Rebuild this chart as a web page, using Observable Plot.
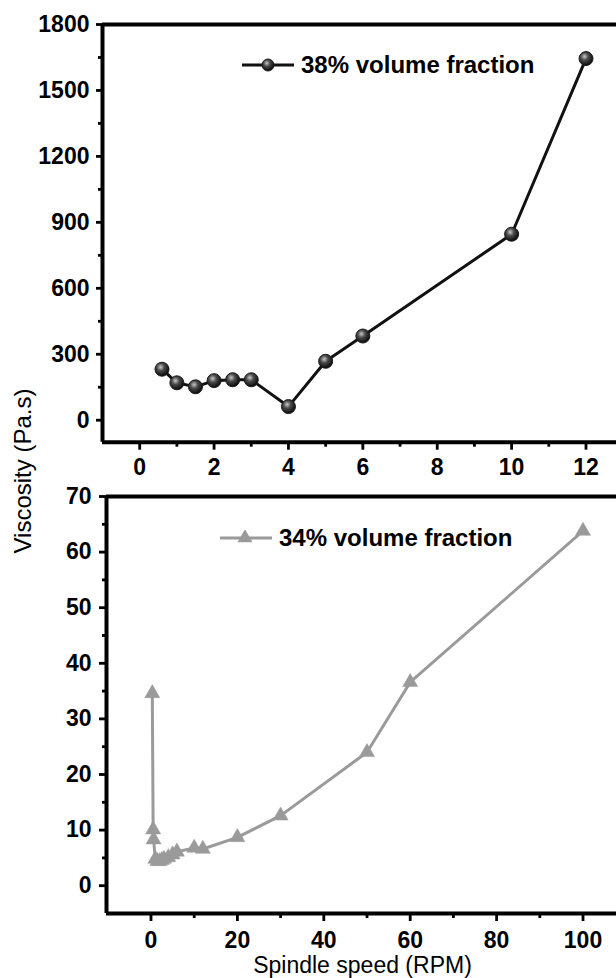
<!DOCTYPE html>
<html>
<head>
<meta charset="utf-8">
<script src="https://cdn.jsdelivr.net/npm/d3@7"></script>
<script src="https://cdn.jsdelivr.net/npm/@observablehq/plot@0.6"></script>
<style>
  html, body { margin: 0; padding: 0; background: #fff; }
  #wrap { position: relative; width: 616px; height: 978px; background: #fff; overflow: hidden;
          font-family: "Liberation Sans", Arial, sans-serif; color: #000; }
  .panel { position: absolute; left: 0; }
  .legend { position: absolute; height: 24px; display: flex; align-items: center; gap: 7px;
            font-size: 24px; font-weight: bold; line-height: 24px; white-space: nowrap; }
  #ylab { position: absolute; left: 23px; top: 471px; transform: translate(-50%, -50%) rotate(-90deg);
          font-size: 24px; line-height: 24px; white-space: nowrap; }
  #xlab { position: absolute; left: 0; width: 725px; top: 954px; text-align: center;
          font-size: 23px; line-height: 22px; white-space: nowrap; }
</style>
</head>
<body>
<div id="wrap">
  <div class="panel" id="top" style="top:0px"></div>
  <div class="panel" id="bottom" style="top:480px"></div>
  <div class="legend" id="legTop" style="left:242px; top:53px"></div>
  <div class="legend" id="legBot" style="left:220px; top:526px"></div>
  <div id="ylab">Viscosity (Pa.s)</div>
  <div id="xlab">Spindle speed (RPM)</div>
</div>
<script>
// ---- data ----
const speed38 = [0.6, 1, 1.5, 2, 2.5, 3, 4, 5, 6, 10, 12];
const visc38  = [232, 170, 152, 180, 184, 184, 62, 268, 383, 846, 1645];

const speed34 = [0.3, 0.5, 0.6, 1, 1.5, 2, 2.5, 3, 4, 5, 6, 10, 12, 20, 30, 50, 60, 100];
const visc34  = [34.6, 10.1, 8.3, 4.8, 4.4, 4.4, 4.6, 4.8, 5.1, 5.6, 6.1, 6.8, 6.6, 8.7, 12.6, 24, 36.6, 63.8];

const xTicksTop = [0, 2, 4, 6, 8, 10, 12];
const xMinorTop = [1, 3, 5, 7, 9, 11];
const yTicksTop = [0, 300, 600, 900, 1200, 1500, 1800];
const yMinorTop = [150, 450, 750, 1050, 1350, 1650];

const xTicksBot = [0, 20, 40, 60, 80, 100];
const xMinorBot = [10, 30, 50, 70, 90];
const yTicksBot = [0, 10, 20, 30, 40, 50, 60, 70];
const yMinorBot = [5, 15, 25, 35, 45, 55, 65];

const label38 = "38% volume fraction";
const label34 = "34% volume fraction";

const data38 = speed38.map((s, i) => ({speed: s, visc: visc38[i]}));
const data34 = speed34.map((s, i) => ({speed: s, visc: visc34[i]}));

const GRAY = "#9a9a9a";
const font = {fontFamily: "'Liberation Sans', Arial, sans-serif", fontSize: "23px", fontWeight: "bold",
              color: "#000", background: "transparent", overflow: "visible"};

function axes(xT, xM, yT, yM, xDom, yDom, xPad, yTS, yPad) {
  return [
    Plot.axisX({ticks: xT, tickSize: 8, tickPadding: xPad, strokeWidth: 2.8, label: null, tickFormat: d => String(d)}),
    Plot.axisX({ticks: xM, tickSize: 5, strokeWidth: 2.8, label: null, tickFormat: () => ""}),
    Plot.axisY({ticks: yT, tickSize: yTS, tickPadding: yPad, strokeWidth: 2.8, label: null, tickFormat: d => String(d)}),
    Plot.axisY({ticks: yM, tickSize: 4, strokeWidth: 2.8, label: null, tickFormat: () => ""}),
    Plot.ruleX([xDom[0]], {strokeWidth: 4, stroke: "#000"}),
    Plot.ruleY([yDom[0]], {strokeWidth: 4, stroke: "#000"}),
    Plot.ruleY([yDom[1]], {strokeWidth: 4, stroke: "#000"})
  ];
}

const xDomTop = [-1, 12.82], yDomTop = [-100, 1800];
const topPlot = Plot.plot({
  width: 616, height: 480,
  marginTop: 24, marginBottom: 38.3, marginLeft: 102, marginRight: 0,
  style: font,
  x: {domain: xDomTop}, y: {domain: yDomTop},
  marks: [
    ...axes(xTicksTop, xMinorTop, yTicksTop, yMinorTop, xDomTop, yDomTop, 8, 6, 7),
    Plot.line(data38, {x: "speed", y: "visc", stroke: "#111", strokeWidth: 3}),
    Plot.dot(data38, {x: "speed", y: "visc", r: 7, fill: "url(#ball)", stroke: "#1a1a1a", strokeWidth: 1})
  ]
});
const defs = d3.select(topPlot).insert("defs", ":first-child");
const g = defs.append("radialGradient").attr("id", "ball").attr("cx", "40%").attr("cy", "35%").attr("r", "60%");
g.append("stop").attr("offset", "0%").attr("stop-color", "#c8c8c8");
g.append("stop").attr("offset", "45%").attr("stop-color", "#4a4a4a");
g.append("stop").attr("offset", "100%").attr("stop-color", "#111");
document.getElementById("top").appendChild(topPlot);

const xDomBot = [-10.3, 107.75], yDomBot = [-5, 70];
const botPlot = Plot.plot({
  width: 616, height: 498,
  marginTop: 16, marginBottom: 65, marginLeft: 106, marginRight: 0,
  style: font,
  x: {domain: xDomBot}, y: {domain: yDomBot},
  marks: [
    ...axes(xTicksBot, xMinorBot, yTicksBot, yMinorBot, xDomBot, yDomBot, 10, 7, 8),
    Plot.line(data34, {x: "speed", y: "visc", stroke: GRAY, strokeWidth: 3}),
    Plot.dot(data34, {x: "speed", y: "visc", r: 5.6, symbol: "triangle", fill: GRAY, stroke: GRAY, strokeWidth: 0.5})
  ]
});
document.getElementById("bottom").appendChild(botPlot);

// legends
function legend(el, text, kind) {
  const box = d3.select(el);
  const svg = box.append("svg").attr("width", 52).attr("height", 16);
  if (kind === "ball") {
    svg.append("line").attr("x1", 0).attr("x2", 52).attr("y1", 8).attr("y2", 8)
      .attr("stroke", "#111").attr("stroke-width", 3);
    svg.append("circle").attr("cx", 26).attr("cy", 8).attr("r", 6)
      .attr("fill", "url(#ball)").attr("stroke", "#1a1a1a");
  } else {
    svg.append("line").attr("x1", 0).attr("x2", 52).attr("y1", 8).attr("y2", 8)
      .attr("stroke", GRAY).attr("stroke-width", 3);
    svg.append("path").attr("transform", "translate(25,8)")
      .attr("d", d3.symbol(d3.symbolTriangle, 5.6 * 5.6 * Math.PI)()).attr("fill", GRAY);
  }
  box.append("span").text(text);
}
legend("#legTop", label38, "ball");
legend("#legBot", label34, "tri");
</script>
</body>
</html>
